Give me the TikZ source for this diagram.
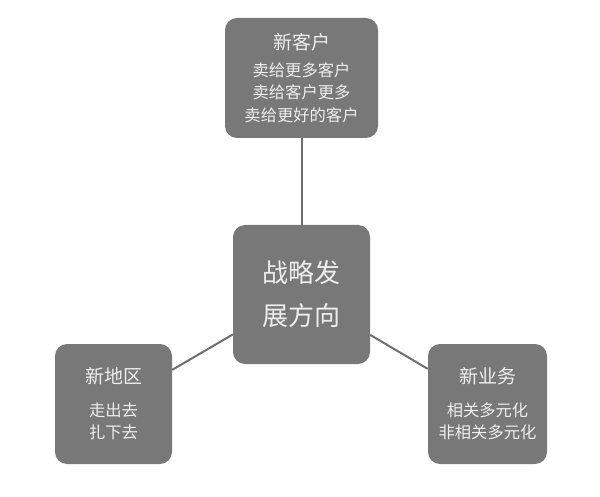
\documentclass[tikz,border=0pt]{standalone}
\usepackage{fontspec}
\setmainfont{Noto Sans CJK SC}
\definecolor{boxgray}{HTML}{787878}
\definecolor{linkgray}{HTML}{6E6E6E}
\definecolor{textgray}{HTML}{EEEEEE}
\tikzset{
  fangxiang/.style={rectangle, rounded corners=12pt, fill=boxgray, text=textgray,
    align=center, inner sep=0pt},
  lianjie/.style={draw=linkgray, line width=2pt}
}
\newcommand{\biaoti}[1]{{\fontsize{19}{22}\selectfont #1}}
\newcommand{\neirong}{\fontsize{16.3}{22.5}\selectfont}
\begin{document}
\begin{tikzpicture}[x=1pt,y=-1pt]

        \useasboundingbox (0,0) rectangle (600,497);

        \node[fangxiang, minimum width=137pt, minimum height=139pt,
          font=\fontsize{26}{43}\selectfont] (zhanlue) at (301.5,294.5) {战略发\\展方向};

        \node[fangxiang, minimum width=153pt, minimum height=120pt, font=\neirong]
          (kehu) at (301.5,78) {\biaoti{新客户}\\[4pt]卖给更多客户\\卖给客户更多\\卖给更好的客户};

        \node[fangxiang, minimum width=117pt, minimum height=120pt, font=\neirong]
          (diqu) at (113.5,404) {\biaoti{新地区}\\[10pt]走出去\\扎下去};

        \node[fangxiang, minimum width=119pt, minimum height=120pt, font=\neirong]
          (yewu) at (487.5,404) {\biaoti{新业务}\\[10pt]相关多元化\\非相关多元化};

        \draw[lianjie] (zhanlue) -- (kehu);
        \draw[lianjie] (zhanlue) -- (diqu);
        \draw[lianjie] (zhanlue) -- (yewu);

      \end{tikzpicture}
\end{document}
